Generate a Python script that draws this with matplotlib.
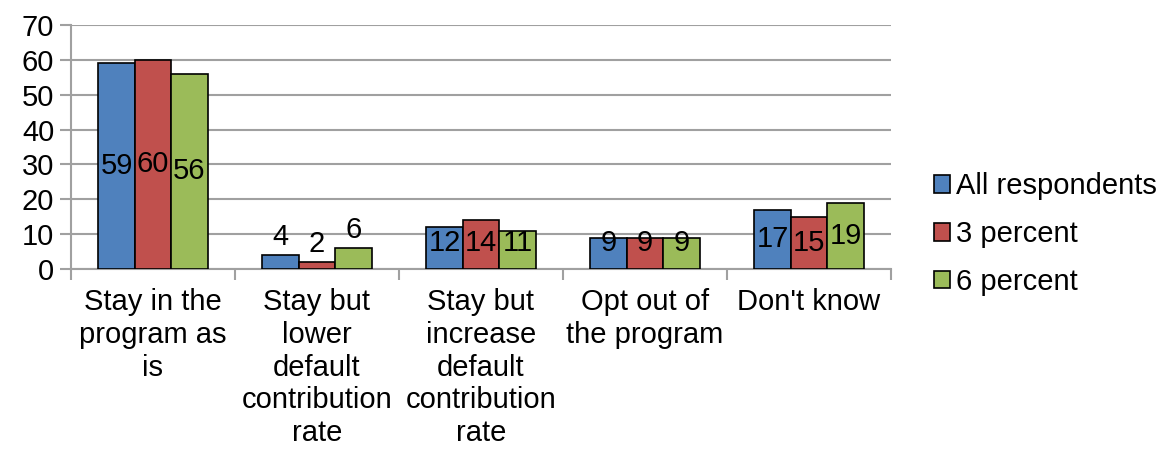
import numpy as np
import matplotlib.pyplot as plt

plt.rcParams['font.family'] = ['Liberation Sans', 'DejaVu Sans']

categories = ["Stay in the\nprogram as\nis",
              "Stay but\nlower\ndefault\ncontribution\nrate",
              "Stay but\nincrease\ndefault\ncontribution\nrate",
              "Opt out of\nthe program",
              "Don't know"]
series_names = ["All respondents", "3 percent", "6 percent"]
all_resp = [59, 4, 12, 9, 17]
pct3 = [60, 2, 14, 9, 15]
pct6 = [56, 6, 11, 9, 19]
colors = ["#4F81BD", "#C0504D", "#9BBB59"]

fs = 21

fig = plt.figure(figsize=(11.58, 4.49), dpi=100)
ax = fig.add_axes([0.0613, 0.4009, 0.7081, 0.5434])

x = np.arange(len(categories))
width = 1 / 4.5  # excel gap width 150%
for i, (vals, name) in enumerate(zip([all_resp, pct3, pct6], series_names)):
    pos = x + (i - 1) * width
    ax.bar(pos, vals, width, color=colors[i], edgecolor="black",
           linewidth=1.2, label=name, zorder=3)
    for p, v in zip(pos, vals):
        # small bars get the label above, the rest roughly in the middle
        ly = v + 5.2 if v <= 6 else max(v / 2, 7.5)
        ax.text(p, ly, str(v), ha="center", va="center", fontsize=fs, zorder=4)

ax.set_ylim(0, 70)
ax.set_xlim(-0.5, len(categories) - 0.5)
ax.set_yticks(range(0, 71, 10))
ax.yaxis.grid(True, color="#A0A0A0", linewidth=1.5, zorder=0)
ax.set_axisbelow(True)

ax.set_xticks(np.arange(-0.5, len(categories)), minor=False)
ax.set_xticklabels([])
ax.set_xticks(x, minor=True)
ax.set_xticklabels(categories, minor=True, fontsize=fs, linespacing=1.21, va="top")
ax.tick_params(axis="x", which="minor", length=0, pad=14)
ax.tick_params(axis="x", which="major", length=8, width=1.5, color="#A0A0A0")
ax.tick_params(axis="y", length=8, width=1.5, color="#A0A0A0", labelsize=fs, pad=4)

for s in ["top", "right"]:
    ax.spines[s].set_visible(False)
ax.spines["left"].set_color("#A0A0A0")
ax.spines["left"].set_linewidth(1.5)
ax.spines["bottom"].set_color("#A0A0A0")
ax.spines["bottom"].set_linewidth(1.5)

ax.legend(loc="center left", bbox_to_anchor=(1.021, 0.143), frameon=False,
          fontsize=fs, handlelength=0.55, handleheight=0.55, handletextpad=0.2,
          labelspacing=0.68)

fig.savefig("out.png", dpi=100)
